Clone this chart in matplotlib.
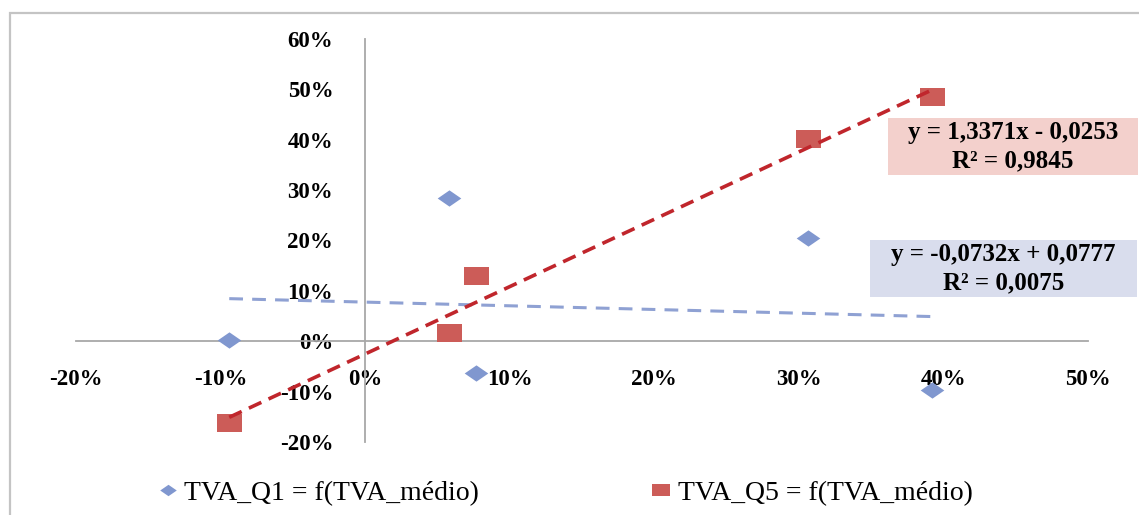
import numpy as np
import matplotlib.pyplot as plt
from matplotlib.path import Path
from matplotlib.patches import Rectangle
from matplotlib.ticker import FuncFormatter, MultipleLocator

# Données : TVA des quintiles en fonction de la TVA médio
tva_medio = [-0.094, 0.058, 0.077, 0.306, 0.392]
tva_q1 = [0.002, 0.284, -0.064, 0.205, -0.097]
tva_q5 = [-0.163, 0.016, 0.129, 0.402, 0.485]

# Droites de tendance (coefficients affichés)
q1_slope, q1_intercept, q1_r2 = -0.0732, 0.0777, 0.0075
q5_slope, q5_intercept, q5_r2 = 1.3371, -0.0253, 0.9845

labels = ['TVA_Q1 = f(TVA_médio)', 'TVA_Q5 = f(TVA_médio)']

W, H = 1139, 515
fig = plt.figure(figsize=(W / 100, H / 100), dpi=100)
serif = 'Liberation Serif'

# cadre du graphique
fig.patches.append(Rectangle((10 / W, -0.05), 1.2, 1.05 - 13 / H, transform=fig.transFigure,
                             fill=False, edgecolor='#c4c4c4', linewidth=1.6))

ax = fig.add_axes([76 / W, 1 - 442 / H, (1088 - 76) / W, (442 - 39) / H])
ax.set_xlim(-0.2, 0.5)
ax.set_ylim(-0.2, 0.6)
ax.patch.set_alpha(0)

for s in ['top', 'right']:
    ax.spines[s].set_visible(False)
for s in ['left', 'bottom']:
    ax.spines[s].set_position(('data', 0))
    ax.spines[s].set_color('#a8a8a8')
    ax.spines[s].set_linewidth(1.3)

ax.xaxis.set_major_locator(MultipleLocator(0.1))
ax.yaxis.set_major_locator(MultipleLocator(0.1))
pct = FuncFormatter(lambda v, p: '%d%%' % round(v * 100))
ax.xaxis.set_major_formatter(pct)
ax.yaxis.set_major_formatter(pct)
ax.tick_params(axis='x', length=0, pad=20)
ax.tick_params(axis='y', length=0, pad=23)
for lab in ax.get_xticklabels() + ax.get_yticklabels():
    lab.set_fontfamily(serif)
    lab.set_fontweight('bold')
    lab.set_fontsize(16.5)

# marqueurs élargis (losange et carré)
diamond = Path([(-1.45, 0), (0, 1), (1.45, 0), (0, -1), (-1.45, 0)])
square = Path([(-1.45, -1), (1.45, -1), (1.45, 1), (-1.45, 1), (-1.45, -1)])

h1, = ax.plot(tva_medio, tva_q1, linestyle='none', marker=diamond, markersize=17,
              color='#8097cf', markeredgewidth=0, label=labels[0], zorder=3)
h2, = ax.plot(tva_medio, tva_q5, linestyle='none', marker=square, markersize=18,
              color='#cc5c58', markeredgewidth=0, label=labels[1], zorder=3)

xs = np.array([min(tva_medio), max(tva_medio)])
ax.plot(xs, q1_slope * xs + q1_intercept, color='#8fa1d3', linewidth=2.2,
        dashes=(4.5, 3), zorder=4)
ax.plot(xs, q5_slope * xs + q5_intercept, color='#c0262c', linewidth=2.6,
        dashes=(3.8, 2.2), zorder=4)


def fmt(v):
    return ('%.4f' % v).replace('.', ',')


def equation(a, b, r2):
    sign = '+' if b >= 0 else '-'
    return 'y = %sx %s %s\nR² = %s' % (fmt(a), sign, fmt(abs(b)), fmt(r2))


# encadrés des équations
boxes = [((888, 118, 250, 57), '#f3d0cc', equation(q5_slope, q5_intercept, q5_r2)),
         ((870, 240, 267, 57), '#d9dded', equation(q1_slope, q1_intercept, q1_r2))]
for (x0, y0, w, h), col, txt in boxes:
    fig.patches.append(Rectangle((x0 / W, 1 - (y0 + h) / H), w / W, h / H,
                                 transform=fig.transFigure, facecolor=col,
                                 edgecolor='none', zorder=5))
    fig.text((x0 + w / 2) / W, 1 - (y0 + h / 2) / H, txt, ha='center', va='center',
             multialignment='center', fontsize=18, fontweight='bold', family=serif,
             linespacing=1.3, zorder=6)

fig.legend([h1, h2], labels, loc='center', bbox_to_anchor=(566 / W, 1 - 493 / H),
           ncol=2, frameon=False, prop={'family': serif, 'size': 20},
           markerscale=0.7, handlelength=0.6, handletextpad=0.3, columnspacing=6.25)

fig.savefig('out.png', dpi=100)
